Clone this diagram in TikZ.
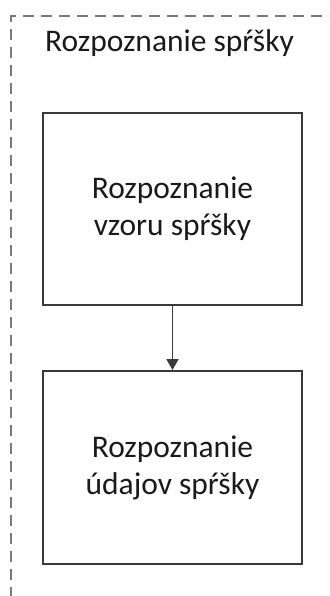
\documentclass[tikz,border=0pt]{standalone}
\usepackage{fontspec}
\setmainfont{Carlito}
\usetikzlibrary{positioning,arrows.meta,shadows}
\definecolor{cframe}{HTML}{7A7A7A}
\definecolor{cedge}{HTML}{3A3A3A}
\definecolor{ctext}{HTML}{1A1A1A}

\begin{document}
\begin{tikzpicture}[x=1pt, y=1pt,
  font=\fontsize{31.5}{37}\selectfont,
  ramec/.style={draw=cframe, line width=2pt, dash pattern=on 11pt off 7pt},
  blok/.style={draw=cedge, line width=1.9pt, fill=white, minimum width=259pt,
    minimum height=192pt, align=center, text=ctext,
    drop shadow={shadow xshift=1pt, shadow yshift=-1.5pt, opacity=0.25}},
  sipka/.style={-{Triangle[length=11pt, width=12pt]}, draw=cedge, line width=1.8pt}]

\useasboundingbox (0,0) rectangle (329,596);
\clip (0,0) rectangle (329,596);

\draw[ramec] (11,-20) -- (11,580) -- (350,580);
\node[anchor=base west, text=ctext, inner sep=0pt] (nadpis) at (45,544) {Rozpoznanie spŕšky};

\node[blok] (vzor) at (172.5,387) {Rozpoznanie\\ vzoru spŕšky};
\node[blok, minimum height=193pt] (udaje) at (172.5,128.5) {Rozpoznanie\\ údajov spŕšky};

\draw[sipka] (vzor) -- (udaje);
\end{tikzpicture}
\end{document}
